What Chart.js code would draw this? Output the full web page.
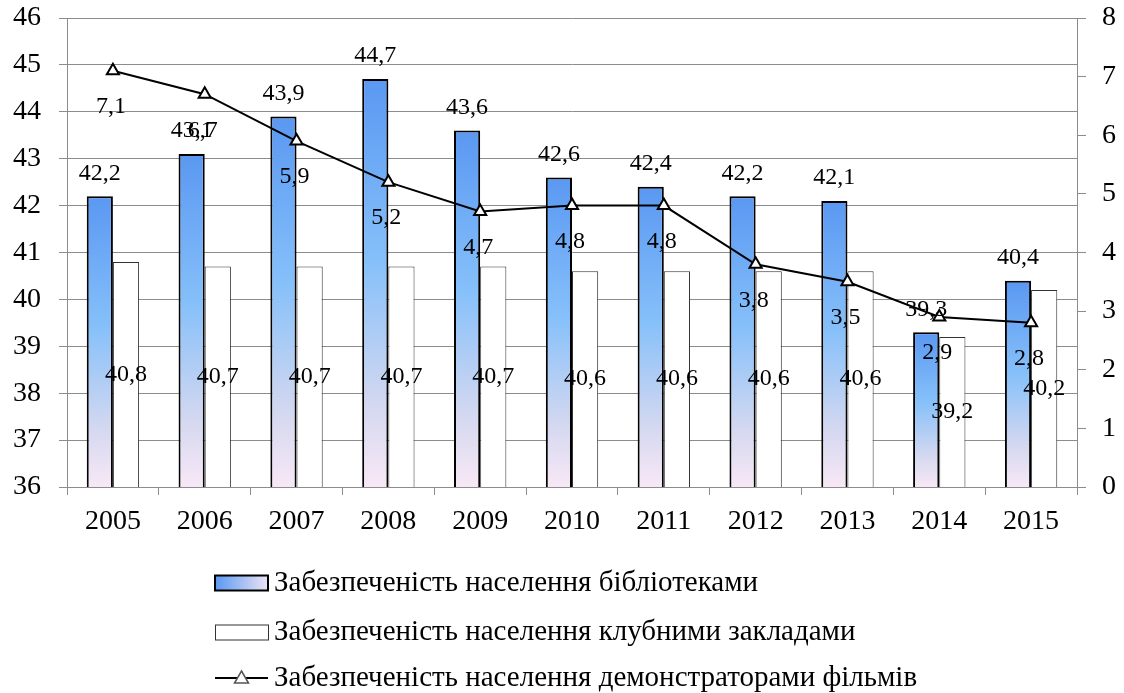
<!DOCTYPE html>
<html>
<head>
<meta charset="utf-8">
<script src="https://cdn.jsdelivr.net/npm/chart.js@4.4.0/dist/chart.umd.min.js"></script>
<style>
  html, body { margin: 0; padding: 0; background: #fff; }
  #wrap { width: 1124px; height: 693px; }
</style>
</head>
<body>
<div id="wrap"><canvas id="myChart" width="1124" height="693"></canvas></div>
<script>
// data
const years = ["2005", "2006", "2007", "2008", "2009", "2010", "2011", "2012", "2013", "2014", "2015"];
const libraries = [42.2, 43.1, 43.9, 44.7, 43.6, 42.6, 42.4, 42.2, 42.1, 39.3, 40.4];
const clubs = [40.8, 40.7, 40.7, 40.7, 40.7, 40.6, 40.6, 40.6, 40.6, 39.2, 40.2];
const filmDemos = [7.1, 6.7, 5.9, 5.2, 4.7, 4.8, 4.8, 3.8, 3.5, 2.9, 2.8];
const labelLib = "Забезпеченість населення бібліотеками";
const labelClub = "Забезпеченість населення клубними закладами";
const labelFilm = "Забезпеченість населення демонстраторами фільмів";

const FONT = '"Liberation Serif", "Times New Roman", serif';
const GRID = "#8c8c8c";

const fmt = (v) => v.toFixed(1).replace(".", ",");

// vertical gradient from bar top to axis base
const barGradient = (ctx) => {
  const chart = ctx.chart;
  const area = chart.chartArea;
  if (!area || ctx.type !== "data") return "#6aa5f5";
  const top = chart.scales.y.getPixelForValue(ctx.raw);
  const g = chart.ctx.createLinearGradient(0, top, 0, area.bottom);
  g.addColorStop(0, "#5a98f2");
  g.addColorStop(0.45, "#86c0fa");
  g.addColorStop(0.8, "#d4d8f0");
  g.addColorStop(1, "#f8e8f6");
  return g;
};

const valueLabels = {
  id: "valueLabels",
  afterDatasetsDraw(chart) {
    const c = chart.ctx;
    const base = chart.scales.y.getPixelForValue(36);
    c.save();
    c.fillStyle = "#000";
    c.font = "24px " + FONT;
    c.textAlign = "center";
    c.textBaseline = "middle";
    chart.getDatasetMeta(1).data.forEach((bar, i) => {
      c.fillText(fmt(libraries[i]), bar.x, bar.y - 23);
    });
    chart.getDatasetMeta(2).data.forEach((bar, i) => {
      c.fillText(fmt(clubs[i]), bar.x, (bar.y + base) / 2);
    });
    chart.getDatasetMeta(0).data.forEach((pt, i) => {
      c.fillText(fmt(filmDemos[i]), pt.x - 2, pt.y + 36);
    });
    c.restore();
  }
};

const bottomLegend = {
  id: "bottomLegend",
  afterDraw(chart) {
    const c = chart.ctx;
    const x0 = 215, w = 53, h = 15;
    const rows = [583, 632, 678];
    c.save();
    // box 1
    let y = rows[0];
    const g = c.createLinearGradient(x0, 0, x0 + w, 0);
    g.addColorStop(0, "#5a98f2");
    g.addColorStop(1, "#ece4f4");
    c.fillStyle = g;
    c.fillRect(x0, y - h / 2, w, h);
    c.lineWidth = 2;
    c.strokeStyle = "#000";
    c.strokeRect(x0, y - h / 2, w, h);
    // box 2
    y = rows[1];
    c.fillStyle = "#fff";
    c.fillRect(x0, y - h / 2, w, h);
    c.lineWidth = 1;
    c.strokeStyle = "#333";
    c.strokeRect(x0 + 0.5, y - h / 2 + 0.5, w, h);
    // line + triangle
    y = rows[2];
    c.lineWidth = 2;
    c.strokeStyle = "#000";
    c.beginPath();
    c.moveTo(x0, y);
    c.lineTo(x0 + w, y);
    c.stroke();
    c.fillStyle = "#fff";
    c.lineWidth = 1.5;
    c.strokeStyle = "#555";
    c.beginPath();
    c.moveTo(x0 + w / 2, y - 7);
    c.lineTo(x0 + w / 2 + 7, y + 5);
    c.lineTo(x0 + w / 2 - 7, y + 5);
    c.closePath();
    c.fill();
    c.stroke();
    // texts
    c.fillStyle = "#000";
    c.font = "29px " + FONT;
    c.textBaseline = "middle";
    [labelLib, labelClub, labelFilm].forEach((t, i) => {
      c.fillText(t, x0 + w + 6, rows[i]);
    });
    c.restore();
  }
};

const data = {
  labels: years,
  datasets: [
    {
      type: "line",
      label: labelFilm,
      data: filmDemos,
      yAxisID: "y2",
      order: 0,
      borderColor: "#000",
      borderWidth: 2,
      pointStyle: "triangle",
      pointRadius: 7,
      pointBackgroundColor: "#fff",
      pointBorderColor: "#000",
      pointBorderWidth: 2,
      tension: 0
    },
    {
      type: "bar",
      label: labelLib,
      data: libraries,
      yAxisID: "y",
      order: 1,
      backgroundColor: barGradient,
      borderColor: "#000",
      borderWidth: 2,
      categoryPercentage: 0.57,
      barPercentage: 1.0
    },
    {
      type: "bar",
      label: labelClub,
      data: clubs,
      yAxisID: "y",
      order: 2,
      backgroundColor: "#fff",
      borderColor: "#333",
      borderWidth: 1,
      categoryPercentage: 0.57,
      barPercentage: 1.0
    }
  ]
};

const config = {
  type: "bar",
  data: data,
  plugins: [valueLabels, bottomLegend],
  options: {
    responsive: false,
    animation: false,
    layout: { padding: { top: 18, right: 0, left: 0, bottom: 0 } },
    plugins: {
      legend: { display: false },
      tooltip: { enabled: false }
    },
    scales: {
      x: {
        grid: { offset: true, drawOnChartArea: false, drawTicks: true, tickLength: 8, color: GRID },
        border: { display: true, color: GRID },
        ticks: { color: "#000", font: { family: FONT, size: 28 }, padding: 10, maxRotation: 0 },
        afterFit(scale) { scale.height = 206; }
      },
      y: {
        position: "left",
        min: 36,
        max: 46,
        ticks: { stepSize: 1, color: "#000", font: { family: FONT, size: 28 }, padding: 18 },
        grid: { color: GRID, tickLength: 8 },
        border: { display: true, color: GRID },
        afterFit(scale) { scale.width = 67; scale.paddingTop = 0; scale.paddingBottom = 0; }
      },
      y2: {
        position: "right",
        min: 0,
        max: 8,
        ticks: { stepSize: 1, color: "#000", font: { family: FONT, size: 28 }, padding: 16 },
        grid: { drawOnChartArea: false, color: GRID, tickLength: 9 },
        border: { display: true, color: GRID },
        afterFit(scale) { scale.width = 47; scale.paddingTop = 0; scale.paddingBottom = 0; }
      }
    }
  }
};

const myChart = new Chart(document.getElementById("myChart"), config);
</script>
</body>
</html>
